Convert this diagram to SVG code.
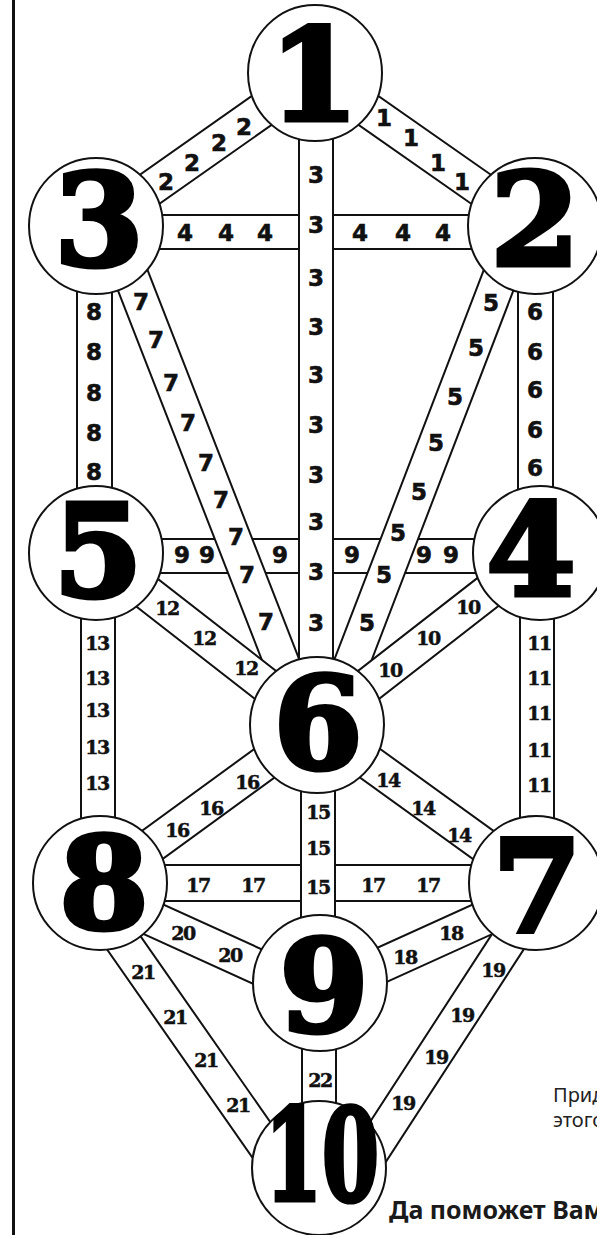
<svg xmlns="http://www.w3.org/2000/svg" width="597" height="1235" viewBox="0 0 597 1235">
<style>
.band{fill:#fff;stroke:#111;stroke-width:2}
.node ellipse{fill:#fff;stroke:#111;stroke-width:2}
.num{font-family:"DejaVu Serif",serif;font-weight:bold;font-size:128px;text-anchor:middle;fill:#000;stroke:#000;stroke-width:5;stroke-linejoin:miter}
.s{font-family:"DejaVu Sans",sans-serif;font-weight:bold;font-size:23px;text-anchor:middle;fill:#111;stroke:#111;stroke-width:0.6}
.d{font-family:"DejaVu Serif",serif;font-weight:bold;font-size:19px;text-anchor:middle;letter-spacing:-1.5px;fill:#111;stroke:#111;stroke-width:0.5}
.note{font-family:"Noto Sans","Open Sans",sans-serif;font-size:20px;fill:#222}
.noteb{font-family:"Noto Sans","Open Sans",sans-serif;font-size:25px;font-weight:bold;fill:#1a1a1a}
</style>
<rect x="0" y="0" width="597" height="1235" fill="#fff"/>
<line x1="13.5" y1="0" x2="13.5" y2="1235" stroke="#111" stroke-width="3"/>
<g id="connectors">
  <rect class="band" x="96" y="215" width="439" height="34"/>
  <rect class="band" x="96" y="539" width="442" height="34"/>
  <rect class="band" x="100" y="865" width="436" height="36"/>
  <polygon class="band" points="325.06,87.32 106.06,241.32 85.94,212.68 304.94,58.68"/>
  <polygon class="band" points="304.96,87.34 524.96,241.34 545.04,212.66 325.04,58.66"/>
  <polygon class="band" points="95.70,233.35 289.70,731.35 322.30,718.65 128.30,220.65"/>
  <polygon class="band" points="502.66,220.73 311.66,718.73 344.34,731.27 535.34,233.27"/>
  <polygon class="band" points="85.25,566.81 306.25,738.81 327.75,711.19 106.75,539.19"/>
  <polygon class="band" points="527.25,539.19 306.25,711.19 327.75,738.81 548.75,566.81"/>
  <polygon class="band" points="306.70,710.85 89.70,868.85 110.30,897.15 327.30,739.15"/>
  <polygon class="band" points="306.76,739.19 525.76,897.19 546.24,868.81 327.24,710.81"/>
  <polygon class="band" points="92.76,910.93 312.76,1010.93 327.24,979.07 107.24,879.07"/>
  <polygon class="band" points="528.77,879.06 312.77,977.06 327.23,1008.94 543.23,910.94"/>
  <polygon class="band" points="67.65,893.02 266.65,1178.02 295.35,1157.98 96.35,872.98"/>
  <polygon class="band" points="531.32,873.47 346.32,1158.47 375.68,1177.53 560.68,892.53"/>
  <rect class="band" x="299" y="73" width="34" height="652"/>
  <rect class="band" x="77" y="227" width="35" height="326"/>
  <rect class="band" x="518" y="227" width="35" height="326"/>
  <rect class="band" x="81" y="553" width="34" height="330"/>
  <rect class="band" x="520" y="553" width="34" height="330"/>
  <rect class="band" x="301" y="725" width="34" height="258"/>
  <rect class="band" x="302" y="983" width="34" height="185"/>
</g>
<g id="path-labels">
  <text class="s" x="166" y="190">2</text><text class="s" x="192" y="171">2</text><text class="s" x="219" y="151">2</text><text class="s" x="244" y="135">2</text>
  <text class="s" x="384" y="126">1</text><text class="s" x="411" y="146">1</text><text class="s" x="438" y="171">1</text><text class="s" x="462" y="190">1</text>
  <text class="s" x="316" y="183">3</text><text class="s" x="316" y="233">3</text><text class="s" x="316" y="286">3</text><text class="s" x="316" y="335">3</text><text class="s" x="316" y="383">3</text><text class="s" x="316" y="433">3</text><text class="s" x="316" y="483">3</text><text class="s" x="316" y="530">3</text><text class="s" x="316" y="580">3</text><text class="s" x="316" y="631">3</text>
  <text class="s" x="185" y="241">4</text><text class="s" x="226" y="241">4</text><text class="s" x="265" y="241">4</text><text class="s" x="360" y="241">4</text><text class="s" x="403" y="241">4</text><text class="s" x="443" y="241">4</text>
  <text class="s" x="94" y="320">8</text><text class="s" x="94" y="360">8</text><text class="s" x="94" y="401">8</text><text class="s" x="94" y="441">8</text><text class="s" x="94" y="480">8</text>
  <text class="s" x="535" y="320">6</text><text class="s" x="535" y="360">6</text><text class="s" x="535" y="398">6</text><text class="s" x="535" y="438">6</text><text class="s" x="535" y="476">6</text>
  <text class="s" x="141" y="310">7</text><text class="s" x="156" y="348">7</text><text class="s" x="171" y="391">7</text><text class="s" x="188" y="431">7</text><text class="s" x="206" y="471">7</text><text class="s" x="221" y="508">7</text><text class="s" x="236" y="545">7</text><text class="s" x="247" y="583">7</text><text class="s" x="266" y="630">7</text>
  <text class="s" x="491" y="311">5</text><text class="s" x="476" y="356">5</text><text class="s" x="455" y="405">5</text><text class="s" x="436" y="451">5</text><text class="s" x="419" y="500">5</text><text class="s" x="398" y="541">5</text><text class="s" x="384" y="583">5</text><text class="s" x="367" y="631">5</text>
  <text class="s" x="182" y="563">9</text><text class="s" x="207" y="563">9</text><text class="s" x="280" y="563">9</text><text class="s" x="352" y="563">9</text><text class="s" x="424" y="563">9</text><text class="s" x="451" y="563">9</text>
  <text class="d" x="167" y="615">12</text><text class="d" x="204" y="645">12</text><text class="d" x="246" y="675">12</text>
  <text class="d" x="468" y="614">10</text><text class="d" x="428" y="645">10</text><text class="d" x="390" y="677">10</text>
  <text class="d" x="97" y="650">13</text><text class="d" x="97" y="685">13</text><text class="d" x="97" y="717">13</text><text class="d" x="97" y="754">13</text><text class="d" x="97" y="790">13</text>
  <text class="d" x="539" y="650">11</text><text class="d" x="539" y="685">11</text><text class="d" x="539" y="720">11</text><text class="d" x="539" y="757">11</text><text class="d" x="539" y="792">11</text>
  <text class="d" x="247" y="789">16</text><text class="d" x="211" y="815">16</text><text class="d" x="177" y="837">16</text>
  <text class="d" x="388" y="787">14</text><text class="d" x="423" y="815">14</text><text class="d" x="459" y="842">14</text>
  <text class="d" x="318" y="819">15</text><text class="d" x="318" y="855">15</text><text class="d" x="318" y="894">15</text>
  <text class="d" x="198" y="892">17</text><text class="d" x="253" y="892">17</text><text class="d" x="373" y="892">17</text><text class="d" x="428" y="892">17</text>
  <text class="d" x="183" y="940">20</text><text class="d" x="230" y="962">20</text>
  <text class="d" x="451" y="940">18</text><text class="d" x="405" y="964">18</text>
  <text class="d" x="143" y="979">21</text><text class="d" x="175" y="1024">21</text><text class="d" x="206" y="1067">21</text><text class="d" x="238" y="1112">21</text>
  <text class="d" x="493" y="977">19</text><text class="d" x="462" y="1022">19</text><text class="d" x="436" y="1064">19</text><text class="d" x="403" y="1110">19</text>
  <text class="d" x="320" y="1087">22</text>
</g>
<g id="node1" class="node"><ellipse cx="315" cy="73" rx="67" ry="68"/><text class="num" x="314" y="120">1</text></g>
<g id="node2" class="node"><ellipse cx="535" cy="226" rx="67" ry="68"/><text class="num" x="535" y="265">2</text></g>
<g id="node3" class="node"><ellipse cx="96" cy="226" rx="67" ry="68"/><text class="num" x="99" y="265">3</text></g>
<g id="node4" class="node"><ellipse cx="540" cy="553" rx="67" ry="67"/><text class="num" x="531" y="595">4</text></g>
<g id="node5" class="node"><ellipse cx="96" cy="553" rx="67" ry="67"/><text class="num" x="98" y="596">5</text></g>
<g id="node6" class="node"><ellipse cx="317" cy="725" rx="67" ry="68"/><text class="num" x="318" y="768">6</text></g>
<g id="node7" class="node"><ellipse cx="536" cy="883" rx="67" ry="67"/><text class="num" x="537" y="931">7</text></g>
<g id="node8" class="node"><ellipse cx="100" cy="883" rx="67" ry="67"/><text class="num" x="104" y="928">8</text></g>
<g id="node9" class="node"><ellipse cx="320" cy="983" rx="67" ry="68"/><text class="num" x="324" y="1031">9</text></g>
<g id="node10" class="node"><ellipse cx="319" cy="1168" rx="67" ry="67"/><text class="num" x="322" y="1200" textLength="114" lengthAdjust="spacingAndGlyphs">10</text></g>
<g id="notes">
  <text class="note" x="553" y="1102">Прид</text>
  <text class="note" x="553" y="1127">этого</text>
  <text class="noteb" x="389" y="1219">Да поможет Вам</text>
</g>
</svg>
